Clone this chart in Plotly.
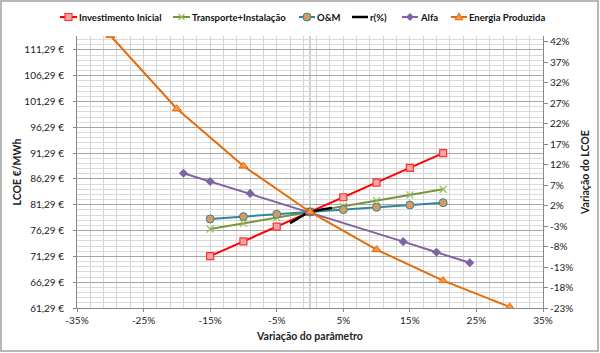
import plotly.graph_objects as go

# ---- data ----
x_inv = [-15, -10, -5, 0, 5, 10, 15, 20]
y_inv = [71.35, 74.2, 77.05, 79.9, 82.75, 85.6, 88.45, 91.3]

x_tra = [-15, -10, -5, 0, 5, 10, 15, 20]
y_tra = [76.6, 77.7, 78.8, 79.9, 81.0, 82.1, 83.2, 84.3]

x_om = [-15, -10, -5, 0, 5, 10, 15, 20]
y_om = [78.55, 79.0, 79.45, 79.9, 80.35, 80.8, 81.25, 81.7]

x_r = [-3, -2, -1, 0, 1, 2, 3.3]
y_r = [77.75, 78.6, 79.3, 79.9, 80.2, 80.45, 80.65]

x_alfa = [-19, -15, -9, 0, 14, 19, 24]
y_alfa = [87.4, 85.8, 83.5, 79.9, 74.15, 72.1, 70.05]

x_ene = [-30, -20, -10, 0, 10, 20, 30]
y_ene = [114.1, 99.9, 88.8, 79.9, 72.6, 66.6, 61.5]

series_names = ["Investimento Inicial", "Transporte+Instalação", "O&M", "r(%)", "Alfa", "Energia Produzida"]

x_ticks = [-35, -25, -15, -5, 5, 15, 25, 35]
x_ticklabels = ["-35%", "-25%", "-15%", "-5%", "5%", "15%", "25%", "35%"]
y_ticks = [61.29, 66.29, 71.29, 76.29, 81.29, 86.29, 91.29, 96.29, 101.29, 106.29, 111.29]
y_ticklabels = ["61,29 €", "66,29 €", "71,29 €", "76,29 €", "81,29 €", "86,29 €",
                "91,29 €", "96,29 €", "101,29 €", "106,29 €", "111,29 €"]
y2_ticks = [-23, -18, -13, -8, -3, 2, 7, 12, 17, 22, 27, 32, 37, 42]
y2_ticklabels = [f"{v}%" for v in y2_ticks]

FONT = "Lato, sans-serif"
TICK_FS = 10
LEG_FS = 9.5

C_RED, C_RED_F = "#FF0000", "#F4A6A6"
C_GRN, C_GRN_M = "#77933C", "#9BBB59"
C_TEAL, C_TAN = "#31859C", "#D99A5B"
C_PUR = "#8064A2"
C_ORA, C_ORA_F = "#E46C0A", "#F79646"

fig = go.Figure()

fig.add_trace(go.Scatter(x=x_inv, y=y_inv, name=series_names[0], mode="lines+markers",
                         line=dict(color=C_RED, width=2),
                         marker=dict(symbol="square", size=7, color=C_RED_F,
                                     line=dict(color="#FF3030", width=1.2))))
fig.add_trace(go.Scatter(x=x_tra, y=y_tra, name=series_names[1], mode="lines+markers",
                         line=dict(color=C_GRN, width=2),
                         marker=dict(symbol="x-thin", size=7, color=C_GRN_M,
                                     line=dict(color=C_GRN_M, width=1.2))))
fig.add_trace(go.Scatter(x=x_om, y=y_om, name=series_names[2], mode="lines+markers",
                         line=dict(color=C_TEAL, width=2),
                         marker=dict(symbol="circle", size=8, color=C_TAN,
                                     line=dict(color=C_TEAL, width=1))))
fig.add_trace(go.Scatter(x=x_r, y=y_r, name=series_names[3], mode="lines",
                         line=dict(color="#000000", width=2.5)))
fig.add_trace(go.Scatter(x=x_alfa, y=y_alfa, name=series_names[4], mode="lines+markers",
                         line=dict(color=C_PUR, width=2),
                         marker=dict(symbol="diamond", size=7, color=C_PUR)))
fig.add_trace(go.Scatter(x=x_ene, y=y_ene, name=series_names[5], mode="lines+markers",
                         line=dict(color=C_ORA, width=2),
                         marker=dict(symbol="triangle-up", size=8, color=C_ORA_F,
                                     line=dict(color=C_ORA, width=1))))
# invisible trace to activate the secondary axis
fig.add_trace(go.Scatter(x=[0], y=[0], yaxis="y2", showlegend=False, mode="markers",
                         marker=dict(opacity=0), hoverinfo="skip"))

W, H = 600, 353
L, R, T, B = 77, 57, 36, 45
pw, ph = W - L - R, H - T - B


def px(x):
    return (x - L) / pw


def py(y):
    return 1 - (y - T) / ph


fig.update_layout(
    width=W, height=H,
    margin=dict(l=L, r=R, t=T, b=B, autoexpand=False),
    paper_bgcolor="white", plot_bgcolor="white",
    font=dict(family=FONT, size=11, color="#222"),
    showlegend=False,
    xaxis=dict(range=[-35, 35], tickvals=x_ticks, ticktext=x_ticklabels,
               showgrid=True, gridcolor="#D4D4D4", gridwidth=1,
               minor=dict(dtick=2, tick0=-35, showgrid=True, gridcolor="#D4D4D4", gridwidth=1),
               showline=True, linecolor="#888", linewidth=1,
               ticks="outside", ticklen=3, tickcolor="#888",
               zeroline=False, tickfont=dict(size=TICK_FS),
               title=dict(text="<b>Variação do parâmetro</b>", font=dict(size=10.5), standoff=7)),
    yaxis=dict(range=[61.29, 114.0], tickvals=y_ticks, ticktext=y_ticklabels,
               showgrid=True, gridcolor="#A6A6A6", gridwidth=1,
               minor=dict(dtick=1, tick0=61.29, showgrid=True, gridcolor="#DADADA", gridwidth=1),
               showline=True, linecolor="#888", linewidth=1,
               ticks="outside", ticklen=3, tickcolor="#888",
               ticklabelstandoff=7,
               zeroline=False, tickfont=dict(size=TICK_FS),
               title=dict(text="<b>LCOE €/MWh</b>", font=dict(size=10.5), standoff=0)),
    yaxis2=dict(range=[-23, 43.4], overlaying="y", side="right",
                tickvals=y2_ticks, ticktext=y2_ticklabels,
                showgrid=False, zeroline=False,
                showline=True, linecolor="#888", linewidth=1,
                ticks="outside", ticklen=4, tickcolor="#888",
                tickfont=dict(size=TICK_FS),
                title=dict(text="<b>Variação do LCOE</b>", font=dict(size=10.5), standoff=9)),
)

shapes = []
# vertical darker line at 0
shapes.append(dict(type="line", xref="x", yref="paper", x0=0, x1=0, y0=0, y1=1,
                   line=dict(color="#A0A0A0", width=1), layer="below"))
# chart border
shapes.append(dict(type="rect", xref="paper", yref="paper",
                   x0=px(1), x1=px(W - 2), y0=py(H - 2), y1=py(1),
                   line=dict(color="#A0A0A0", width=1.5)))

# ---- manual legend (single row, as in the reference) ----
LY = 17
legend_items = [
    # (line x0, line x1, text x, line color, marker kind)
    (60, 77, 78, C_RED, "square"),
    (173, 190, 191, C_GRN, "x"),
    (299, 315, 316, C_TEAL, "circle"),
    (352, 368, 369, "#000000", None),
    (402, 418, 419, C_PUR, "diamond"),
    (451, 467, 468, C_ORA, "triangle"),
]
annotations = []
for (x0, x1, tx, col, kind), name in zip(legend_items, series_names):
    shapes.append(dict(type="line", xref="paper", yref="paper",
                       x0=px(x0), x1=px(x1), y0=py(LY), y1=py(LY),
                       line=dict(color=col, width=2.5 if kind is None else 2)))
    cx = (x0 + x1) / 2
    if kind == "square":
        shapes.append(dict(type="rect", xref="paper", yref="paper",
                           x0=px(cx - 3.5), x1=px(cx + 3.5), y0=py(LY + 3.5), y1=py(LY - 3.5),
                           fillcolor=C_RED_F, line=dict(color="#FF3030", width=1.2)))
    elif kind == "x":
        d = 3
        path = (f"M {px(cx-d)} {py(LY-d)} L {px(cx+d)} {py(LY+d)} "
                f"M {px(cx-d)} {py(LY+d)} L {px(cx+d)} {py(LY-d)}")
        shapes.append(dict(type="path", xref="paper", yref="paper", path=path,
                           line=dict(color=C_GRN_M, width=1.2)))
    elif kind == "circle":
        shapes.append(dict(type="circle", xref="paper", yref="paper",
                           x0=px(cx - 4), x1=px(cx + 4), y0=py(LY + 4), y1=py(LY - 4),
                           fillcolor=C_TAN, line=dict(color=C_TEAL, width=1)))
    elif kind == "diamond":
        d = 3.5
        path = (f"M {px(cx)} {py(LY-d)} L {px(cx+d)} {py(LY)} L {px(cx)} {py(LY+d)} "
                f"L {px(cx-d)} {py(LY)} Z")
        shapes.append(dict(type="path", xref="paper", yref="paper", path=path,
                           fillcolor=C_PUR, line=dict(color=C_PUR, width=1)))
    elif kind == "triangle":
        d = 4
        path = (f"M {px(cx)} {py(LY-d)} L {px(cx+d)} {py(LY+d*0.7)} "
                f"L {px(cx-d)} {py(LY+d*0.7)} Z")
        shapes.append(dict(type="path", xref="paper", yref="paper", path=path,
                           fillcolor=C_ORA_F, line=dict(color=C_ORA, width=1)))
    annotations.append(dict(xref="paper", yref="paper", x=px(tx), y=py(LY),
                            xanchor="left", yanchor="middle", showarrow=False,
                            text=f"<b>{name}</b>", font=dict(size=LEG_FS, color="#111"),
                            borderpad=0))

fig.update_layout(shapes=shapes, annotations=annotations)

fig.write_html("out.html")
